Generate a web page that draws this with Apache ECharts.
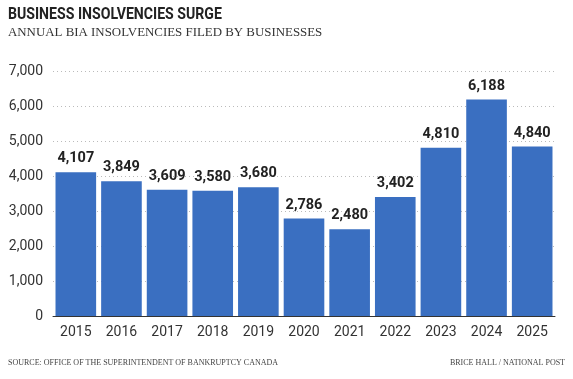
<!DOCTYPE html>
<html><head><meta charset="utf-8">
<script src="https://cdn.jsdelivr.net/npm/echarts@6/dist/echarts.min.js"></script>
<style>html,body{margin:0;padding:0;background:#fff}#c{width:573px;height:379px}</style>
</head><body><div id="c"></div>
<script>
const categories = ['2015','2016','2017','2018','2019','2020','2021','2022','2023','2024','2025'];
const insolvencies = [4107,3849,3609,3580,3680,2786,2480,3402,4810,6188,4840];
const yTicks = [0,1000,2000,3000,4000,5000,6000,7000];

const chart = echarts.init(document.getElementById('c'));
chart.setOption({
  animation:false,
  graphic:[
    {type:'text', left:8, top:6, scaleX:0.83, scaleY:1, originX:0,
     style:{text:'BUSINESS INSOLVENCIES SURGE', font:'bold 17px Roboto, sans-serif', fill:'#222'}}
  ],
  title:[
    {text:'ANNUAL BIA INSOLVENCIES FILED BY BUSINESSES', left:3, top:21,
     textStyle:{fontFamily:'Liberation Serif, serif', fontWeight:'normal', fontSize:12.9, color:'#333'}},
    {text:'SOURCE: OFFICE OF THE SUPERINTENDENT OF BANKRUPTCY CANADA', left:3, top:354,
     textStyle:{fontFamily:'Liberation Serif, serif', fontWeight:'normal', fontSize:8, color:'#444'}},
    {text:'BRICE HALL / NATIONAL POST', right:3, top:354,
     textStyle:{fontFamily:'Liberation Serif, serif', fontWeight:'normal', fontSize:8, color:'#444'}}
  ],
  grid:{left:53, right:18, top:71, bottom:63, containLabel:false},
  xAxis:{type:'category', data:categories,
    axisLine:{lineStyle:{color:'#333', width:1}},
    axisTick:{show:false},
    axisLabel:{fontFamily:'Roboto, sans-serif', fontSize:14, color:'#333', margin:9}
  },
  yAxis:{type:'value', min:0, max:7000, interval:1000,
    axisLine:{show:false}, axisTick:{show:false},
    axisLabel:{fontFamily:'Roboto, sans-serif', fontSize:14, color:'#333', margin:10,
      formatter:v=>yTicks.includes(v)?v.toLocaleString('en-US'):''},
    splitLine:{lineStyle:{color:'#bbb', type:[1,3], width:1}}
  },
  series:[{type:'bar', data:insolvencies, barCategoryGap:'11%',
    itemStyle:{color:'#3a6fc1'},
    label:{show:true, position:'top', distance:6, fontFamily:'Roboto, sans-serif', fontWeight:'bold', fontSize:14.5, color:'#222',
      formatter:p=>p.value.toLocaleString('en-US')}
  }]
});
</script></body></html>
